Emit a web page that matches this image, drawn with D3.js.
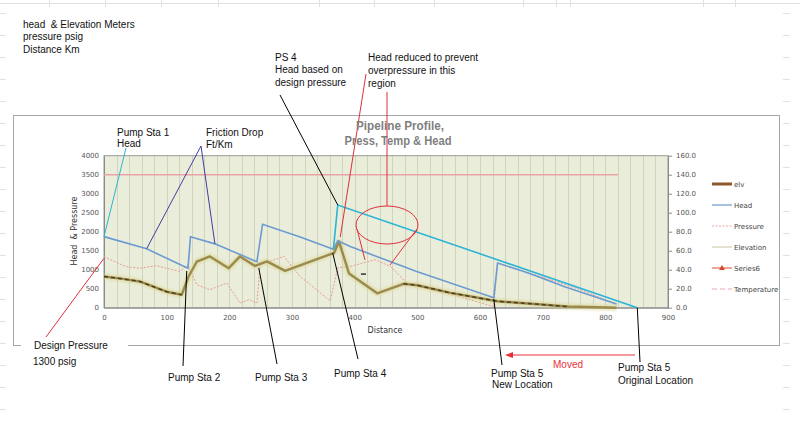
<!DOCTYPE html>
<html><head><meta charset="utf-8">
<script src="https://cdn.jsdelivr.net/npm/d3@7"></script>
<style>
body{margin:0;background:#fff;}
svg{display:block;font-family:"Liberation Sans",Arial,sans-serif;}
text{white-space:pre;}
</style></head><body>
<svg id="c" width="800" height="424"></svg>
<script>
// ---------- data ----------
const distanceTicks = [0,100,200,300,400,500,600,700,800,900];
const headTicks = [0,500,1000,1500,2000,2500,3000,3500,4000];
const tempTicks = [0,20,40,60,80,100,120,140,160];

const elevDist = [0,30,57,84,100,124,135,148,169,199,217,241,260,289,367,375,391,436,478,500,553,628,740,818];
const elevVal  = [820,760,690,520,420,340,820,1210,1350,1040,1350,1100,1220,970,1440,1740,900,380,630,590,390,170,30,0];

const elvDist = [0,30,57,84,100,124,null,478,500,553,628,740];
const elvVal  = [820,760,690,520,420,340,null,630,590,390,170,30];

const headDist = [0,68,134,138,177,244,253,313,366,373,393,499,622,628,670,692,734,818];
const headVal  = [1870,1550,1037,1868,1680,1210,2194,1860,1536,1760,1610,950,263,1175,955,823,560,97];

const designHeadDist = [366,373,851];
const designHeadVal  = [1536,2703,0];

const pressDist = [0,35,57,84,100,121,134,148,169,196,217,231,244,249,287,313,361,373,393,433,457,484,500,565,622,628,700,760,818];
const pressVal  = [1340,1080,1040,1105,1035,955,1131,605,473,649,123,210,123,1131,1350,823,180,1050,1087,1262,1087,640,560,300,30,1175,800,480,80];

const tempDist = [0,820];
const tempVal  = [140,140];

const series6Dist = [414];
const series6Val  = [885];

const legendNames = ["elv","Head","Pressure","Elevation","Series6","Temperature"];

// ---------- drawing ----------
const svg = d3.select("#c");
const W = 800, H = 424;

// faint spreadsheet cell lines
const sheet = svg.append("g").attr("stroke","#e2e2e2").attr("stroke-width",1);
sheet.append("line").attr("x1",0).attr("x2",W).attr("y1",3.5).attr("y2",3.5);
[49,105,161,218,319,374,434,523,556,570,703,735].forEach(v=>{
  sheet.append("line").attr("x1",v+0.5).attr("x2",v+0.5).attr("y1",0).attr("y2",7);
});
d3.range(13,424,22).forEach(v=>{
  sheet.append("line").attr("x1",0).attr("x2",6).attr("y1",v+0.5).attr("y2",v+0.5);
  sheet.append("line").attr("x1",783).attr("x2",790).attr("y1",v+0.5).attr("y2",v+0.5);
});

// chart border
svg.append("rect").attr("x",13.5).attr("y",115.5).attr("width",766).attr("height",230)
  .attr("fill","none").attr("stroke","#a6a6a6").attr("stroke-width",1);

const x = d3.scaleLinear().domain([0,900]).range([104,668]);
const yL = d3.scaleLinear().domain([0,4000]).range([307.7,155.7]);
const yR = d3.scaleLinear().domain([0,160]).range([307.7,155.7]);

// plot area
svg.append("rect").attr("x",x(0)).attr("y",yL(4000)).attr("width",x(900)-x(0)).attr("height",yL(0)-yL(4000))
  .attr("fill","#eaedda");
const grid = svg.append("g").attr("stroke","#d0d4bd").attr("stroke-width",1);
d3.range(20,900,20).forEach(v=>{
  grid.append("line").attr("x1",Math.round(x(v))+0.5).attr("x2",Math.round(x(v))+0.5)
    .attr("y1",yL(4000)).attr("y2",yL(0));
});
svg.append("rect").attr("x",x(0)).attr("y",yL(4000)).attr("width",x(900)-x(0)).attr("height",yL(0)-yL(4000))
  .attr("fill","none").attr("stroke","#9a9a9a");

// axes
const axL = svg.append("g").attr("transform",`translate(${x(0)},0)`)
  .call(d3.axisLeft(yL).tickValues(headTicks).tickSize(0).tickSizeOuter(0).tickPadding(5).tickFormat(d3.format("d")));
const axR = svg.append("g").attr("transform",`translate(${x(900)},0)`)
  .call(d3.axisRight(yR).tickValues(tempTicks).tickSize(4).tickSizeOuter(0).tickPadding(4).tickFormat(d3.format(".1f")));
const axB = svg.append("g").attr("transform",`translate(0,${yL(0)})`)
  .call(d3.axisBottom(x).tickValues(distanceTicks).tickSize(0).tickSizeOuter(0).tickPadding(7).tickFormat(d3.format("d")));
[axL,axR,axB].forEach(a=>{
  a.selectAll(".domain").attr("stroke","#8a8a8a");
  a.selectAll(".tick line").attr("stroke","#8a8a8a");
  a.selectAll("text").attr("font-size",7).attr("fill","#555").attr("font-family","'DejaVu Sans',sans-serif");
});

// axis titles
svg.append("text").attr("transform","translate(77,231) rotate(-90)").attr("text-anchor","middle")
  .attr("font-size",8).attr("fill","#333").attr("font-family","'DejaVu Sans',sans-serif").text("Head  & Pressure");
svg.append("text").attr("x",385).attr("y",333).attr("text-anchor","middle")
  .attr("font-size",8).attr("fill","#333").attr("font-family","'DejaVu Sans',sans-serif").text("Distance");

// series
const zip = (a,b)=>a.map((d,i)=>[d,b[i]]);
const lineL = d3.line().defined(d=>d[0]!==null).x(d=>x(d[0])).y(d=>yL(d[1]));
const lineR = d3.line().defined(d=>d[0]!==null).x(d=>x(d[0])).y(d=>yR(d[1]));

const defs = svg.append("defs");
defs.append("filter").attr("id","glow").attr("x","-10%").attr("y","-50%").attr("width","120%").attr("height","200%")
  .append("feGaussianBlur").attr("stdDeviation",1.2);

// temperature (right axis)
svg.append("path").attr("d",lineR(zip(tempDist,tempVal))).attr("fill","none")
  .attr("stroke","#eaa3a3").attr("stroke-width",1.5);

// pressure
svg.append("path").attr("d",lineL(zip(pressDist,pressVal))).attr("fill","none")
  .attr("stroke","#e79a9a").attr("stroke-width",1).attr("stroke-dasharray","2,1.5");

// elevation with glow
const elevPts = zip(elevDist,elevVal);
svg.append("path").attr("d",lineL(elevPts)).attr("fill","none")
  .attr("stroke","#dcd796").attr("stroke-width",6).attr("opacity",0.6).attr("filter","url(#glow)")
  .attr("stroke-linejoin","round");
svg.append("path").attr("d",lineL(elevPts)).attr("fill","none")
  .attr("stroke","#9a8a4e").attr("stroke-width",2.4).attr("stroke-linejoin","round");
svg.append("path").attr("d",lineL(zip(elvDist,elvVal))).attr("fill","none")
  .attr("stroke","#4d3f1c").attr("stroke-width",1.5).attr("stroke-dasharray","4,3");

// head
svg.append("path").attr("d",lineL(zip(headDist,headVal))).attr("fill","none")
  .attr("stroke","#6c9bd0").attr("stroke-width",1.6);
// design (original) head
svg.append("path").attr("d",lineL(zip(designHeadDist,designHeadVal))).attr("fill","none")
  .attr("stroke","#2db4d6").attr("stroke-width",1.6);

// series6 mark
svg.selectAll(".s6").data(zip(series6Dist,series6Val)).enter().append("line")
  .attr("x1",d=>x(d[0])-2.5).attr("x2",d=>x(d[0])+2.5).attr("y1",d=>yL(d[1])).attr("y2",d=>yL(d[1]))
  .attr("stroke","#333").attr("stroke-width",1.5);

// legend
const lg = svg.append("g");
const lgStyles = [
  {stroke:"#8e5a2c", w:3, dash:null},
  {stroke:"#4f81bd", w:1, dash:null},
  {stroke:"#f0a0a8", w:1, dash:"2,1.5"},
  {stroke:"#c8c79c", w:1, dash:null},
  {stroke:"#d8482c", w:1, dash:null, marker:true},
  {stroke:"#f0a8b4", w:1, dash:"5,3"}
];
legendNames.forEach((n,i)=>{
  const yy = 184 + i*21;
  const s = lgStyles[i];
  lg.append("line").attr("x1",712).attr("x2",732).attr("y1",yy).attr("y2",yy)
    .attr("stroke",s.stroke).attr("stroke-width",s.w).attr("stroke-dasharray",s.dash);
  if(s.marker){
    lg.append("path").attr("d","M722,"+(yy-3)+"L725,"+(yy+2)+"L719,"+(yy+2)+"Z").attr("fill","#d8482c");
  }
  lg.append("text").attr("x",734).attr("y",yy+2.5).attr("font-size",7).attr("fill","#444")
    .attr("font-family","'DejaVu Sans',sans-serif").text(n);
});

// ---------- annotations ----------
function seg(p,q,c,w){ svg.append("line").attr("x1",p[0]).attr("y1",p[1]).attr("x2",q[0]).attr("y2",q[1])
  .attr("stroke",c).attr("stroke-width",w||1); }
const P = (dx,dy)=>[x(dx),yL(dy)];

// leader lines
seg([126,148],P(headDist[0],headVal[0]),"#2db4d6",1);
seg([201,146],P(68,1550),"#3f3f9f",1);
seg([201,146],P(177,1680),"#3f3f9f",1);
seg([280,95],P(designHeadDist[1],designHeadVal[1]),"#000",1);
seg([366,74],P(377,1860),"#e0303a",1);
seg([387,92],[387,206],"#e0303a",1);
svg.append("ellipse").attr("cx",387).attr("cy",225).attr("rx",31).attr("ry",19)
  .attr("fill","none").attr("stroke","#e0303a").attr("stroke-width",1);
seg([357,229],[365,260],"#e0303a",1);
seg([417,229],[390,265],"#e0303a",1);

svg.append("rect").attr("x",21).attr("y",338).attr("width",107).attr("height",14).attr("fill","#fff");
seg([46,337],P(0,1300),"#e0303a",1);

seg([183,366],P(132,966),"#000",1);
seg([277,364],P(247,1045),"#000",1);
seg([358,359],P(365,1440),"#000",1);
seg([502,365],P(622,230),"#000",1);
seg([640,362],P(designHeadDist[2],designHeadVal[2]),"#000",1);

seg([635,355],[510,355],"#e8303a",1);
svg.append("path").attr("d","M505,355L513,352L513,358Z").attr("fill","#e8303a");

// chart title
svg.append("text").attr("x",400).attr("y",129.5).attr("text-anchor","middle").attr("font-size",13)
  .attr("font-weight","bold").attr("fill","#7f7f7f").attr("textLength",88).attr("lengthAdjust","spacingAndGlyphs")
  .text("Pipeline Profile,");
svg.append("text").attr("x",398).attr("y",145).attr("text-anchor","middle").attr("font-size",13)
  .attr("font-weight","bold").attr("fill","#7f7f7f").attr("textLength",107).attr("lengthAdjust","spacingAndGlyphs")
  .text("Press, Temp & Head");

const ann = svg.append("g").attr("font-size",10).attr("fill","#111");
function txt(xx,yy,t,fill){ ann.append("text").attr("x",xx).attr("y",yy).attr("fill",fill||"#111").text(t); }

txt(23,27.5,"head  & Elevation Meters");
txt(23,39.5,"pressure psig");
txt(23,53,"Distance Km");

txt(275,61,"PS 4"); txt(275,73,"Head based on"); txt(275,86,"design pressure");
txt(368,61,"Head reduced to prevent"); txt(368,73.5,"overpressure in this"); txt(368,86.5,"region");

txt(117,135.5,"Pump Sta 1"); txt(117,147,"Head");
txt(206,135.5,"Friction Drop"); txt(206,147.5,"Ft/Km");

txt(34,348.5,"Design Pressure"); txt(33,364.5,"1300 psig");

txt(168,380.5,"Pump Sta 2");
txt(255,380.5,"Pump Sta 3");
txt(334,376.5,"Pump Sta 4");
txt(491,376.5,"Pump Sta 5"); txt(492,387.5,"New Location");
txt(618,370.5,"Pump Sta 5"); txt(618,383.5,"Original Location");
txt(553,367.5,"Moved","#e8303a");
</script>
</body></html>
